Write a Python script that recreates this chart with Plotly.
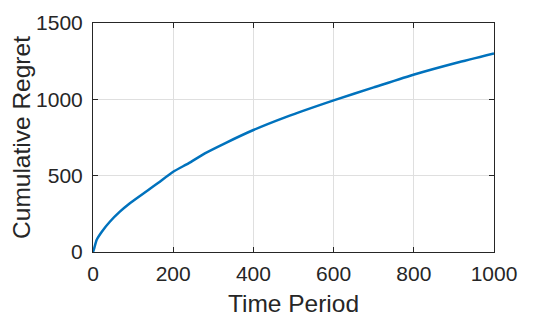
import plotly.graph_objects as go

time_period = [0, 3, 9, 22, 42, 67, 92, 117, 138, 163, 200, 238, 279, 329, 400, 479, 602, 700, 801, 907, 1000]
cumulative_regret = [0, 24, 79, 133, 198, 264, 319, 367, 406, 454, 526, 581, 646, 712, 799, 882, 995, 1078, 1163, 1240, 1301]
x_ticks = [0, 200, 400, 600, 800, 1000]
y_ticks = [0, 500, 1000, 1500]

FONT = "Liberation Sans, Arial, sans-serif"

fig = go.Figure()
fig.add_trace(go.Scatter(
    x=time_period, y=cumulative_regret, mode="lines",
    line=dict(color="#0072BD", width=2.5, shape="spline", smoothing=0.5),
    showlegend=False, cliponaxis=False,
))

axis_common = dict(
    showline=True, linecolor="#262626", linewidth=1, mirror="ticks",
    ticks="inside", ticklen=5, tickwidth=1, tickcolor="#262626",
    showgrid=True, gridcolor="#dfdfdf", gridwidth=1, zeroline=False,
    automargin=False,
    tickfont=dict(family=FONT, size=21, color="#262626"),
)

# page body has an 8px default margin, so the figure is sized to fit the window
fig.update_layout(
    width=539, height=312,
    margin=dict(l=85, r=53, t=15, b=68),
    paper_bgcolor="white", plot_bgcolor="white",
    xaxis=dict(range=[0, 1000], tickvals=x_ticks, ticklabelstandoff=3,
               title=dict(text="Time Period", standoff=10,
                          font=dict(family=FONT, size=24.5, color="#262626")),
               **axis_common),
    yaxis=dict(range=[0, 1500], tickvals=y_ticks, ticklabelstandoff=5,
               title=dict(text="Cumulative Regret", standoff=11,
                          font=dict(family=FONT, size=24.5, color="#262626")),
               **axis_common),
)

fig.write_html("out.html")
